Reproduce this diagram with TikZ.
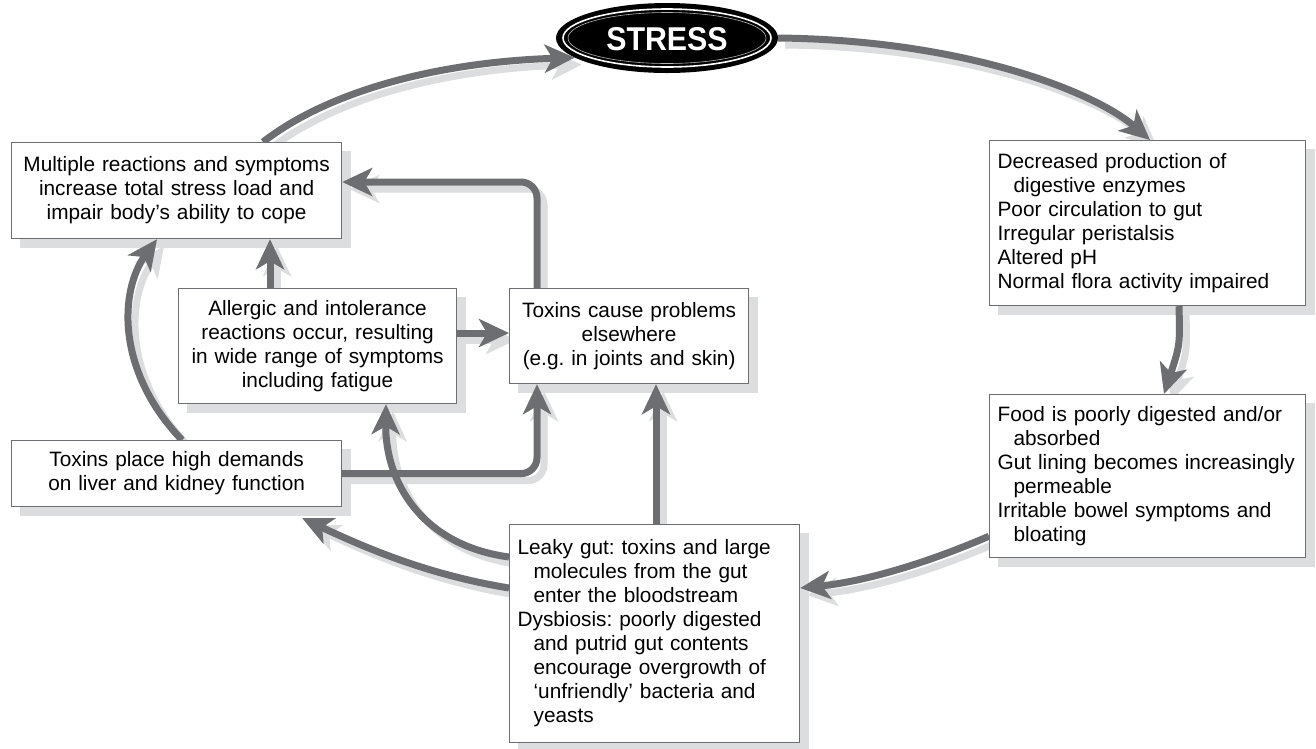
\documentclass[tikz,border=0pt]{standalone}
\usepackage{fontspec}
\setmainfont{Liberation Sans}
\usetikzlibrary{arrows.meta,calc,shapes.geometric}
\definecolor{arr}{HTML}{6D6E71}
\definecolor{shd}{HTML}{DCDDDE}
\pgfdeclarelayer{bg}
\pgfdeclarelayer{shlayer}
\pgfdeclarelayer{mid}
\pgfsetlayers{bg,shlayer,mid,main}
\newcommand{\boxfont}{\fontsize{20.8}{24}\selectfont\frenchspacing\hyphenpenalty=10000\relax\exhyphenpenalty=10000\relax}
% draws a connector with its offset light shadow
\newcommand{\connect}[2][]{%
  \begin{pgfonlayer}{shlayer}\draw[conn, draw=shd, #1, transform canvas={shift={(7pt,-7pt)}}] #2;\end{pgfonlayer}%
  \begin{pgfonlayer}{mid}\draw[conn, #1] #2;\end{pgfonlayer}}
\begin{document}
\begin{tikzpicture}[x=1pt,y=-1pt,
  box/.style={draw=arr, line width=1.2pt, fill=white, anchor=north west, inner xsep=8pt, inner ysep=0pt,
    font=\boxfont},
  cbox/.style={box, align=center},
  lbox/.style={box, align=left},
  conn/.style={draw=arr, line width=7pt, -{Stealth[length=30pt,width=28pt,inset=8pt]}},
]
\useasboundingbox (0,0) rectangle (1316,748);

% STRESS
\node[ellipse, fill=black, inner sep=0pt, minimum width=222, minimum height=70] (stress) at (667,38) {};
\draw[white, line width=1.6pt] (stress.center) ellipse [x radius=104, y radius=29];
\draw[white!70!black, line width=0.6pt] (stress.center) ellipse [x radius=99, y radius=25.5];
\node[text=white, font=\fontsize{33}{33}\selectfont\bfseries] (stresstxt) at ($(stress.center)+(0,1)$) {\scalebox{0.92}[1]{STRESS}};

% boxes
\node[cbox, text width=314, minimum height=96] (b1) at (11,142)
  {Multiple reactions and symptoms\\increase total stress load and\\impair body’s ability to cope};
\node[cbox, text width=262, minimum height=115] (b2) at (178,288)
  {Allergic and intolerance\\reactions occur, resulting\\in wide range of symptoms\\including fatigue};
\node[cbox, text width=223, minimum height=95] (b3) at (509,288)
  {Toxins cause problems\\elsewhere\\(e.g. in joints and skin)};
\node[cbox, text width=314, minimum height=66] (b4) at (11,440)
  {Toxins place high demands\\on liver and kidney function};
\node[lbox, text width=300, minimum height=165] (b5) at (989,140)
  {Decreased production of\\\hspace*{16pt}digestive enzymes\\Poor circulation to gut\\Irregular peristalsis\\Altered pH\\Normal flora activity impaired};
\node[lbox, text width=300, minimum height=163] (b6) at (989,394)
  {Food is poorly digested and/or\\\hspace*{16pt}absorbed\\Gut lining becomes increasingly\\\hspace*{16pt}permeable\\Irritable bowel symptoms and\\\hspace*{16pt}bloating};
\node[lbox, text width=274, minimum height=218] (b7) at (509,524)
  {Leaky gut: toxins and large\\\hspace*{16pt}molecules from the gut\\\hspace*{16pt}enter the bloodstream\\Dysbiosis: poorly digested\\\hspace*{16pt}and putrid gut contents\\\hspace*{16pt}encourage overgrowth of\\\hspace*{16pt}‘unfriendly’ bacteria and\\\hspace*{16pt}yeasts};

% background and box shadows
\begin{pgfonlayer}{bg}
\fill[white] (0,0) rectangle (1316,748);
\foreach \b in {b1,b2,b3,b4,b5,b6,b7}
  \fill[shd] ($(\b.north west)+(9,9)$) rectangle ($(\b.south east)+(9,9)$);
\end{pgfonlayer}

% connectors
\connect{($(b1.north west)+(252,0)$) .. controls (330,90) and (440,62) .. (stress.192)}
\connect{(stress.east) .. controls (965,40) and (1095,92) .. ($(b5.north west)+(161,0)$)}
\connect{($(b5.south west)+(190,0)$) .. controls (1180,345) .. ($(b6.north west)+(175,0)$)}
\connect{($(b6.south west)+(0,-22)$) .. controls (920,566) and (860,582) .. ($(b7.north east)+(0,64)$)}
\connect{($(b7.north west)+(0,64)$) .. controls (430,575) and (370,550) .. ($(b4.south east)+(-40,11)$)}
\connect{($(b7.north west)+(0,33)$) .. controls (420,545) and (385,480) .. ($(b2.south west)+(208,0)$)}
\connect{($(b7.north west)+(147,0)$) -- ($(b3.south west)+(147,0)$)}
\connect[rounded corners=16pt]{(b4.east) -| ($(b3.south west)+(28,0)$)}
\connect{($(b2.north east)+(0,45)$) -- ($(b3.north west)+(0,45)$)}
\connect{($(b2.north west)+(92,0)$) -- ($(b1.south west)+(259,0)$)}
\connect[rounded corners=16pt]{($(b3.north west)+(28,0)$) |- ($(b1.north east)+(0,40)$)}
\connect{($(b4.north west)+(171,0)$) .. controls (115,370) and (120,290) .. ($(b1.south west)+(146,0)$)}
\end{tikzpicture}
\end{document}
